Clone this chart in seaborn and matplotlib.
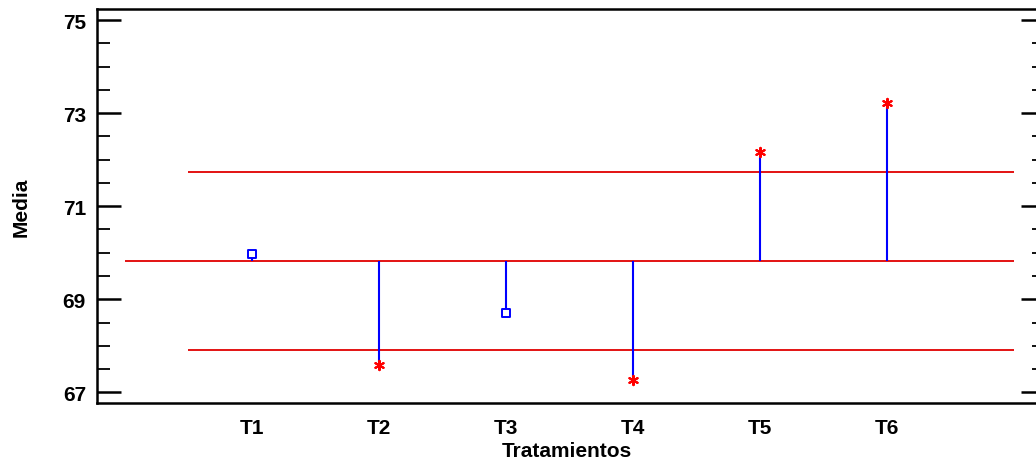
import matplotlib
matplotlib.use("Agg")
import matplotlib.pyplot as plt
from matplotlib.ticker import MultipleLocator
import numpy as np
import pandas as pd
import seaborn as sns

# Treatment means and control limits
tratamientos = ["T1", "T2", "T3", "T4", "T5", "T6"]
medias = [69.97, 67.58, 68.71, 67.26, 72.17, 73.21]
linea_central = 69.82
limite_superior = 71.73
limite_inferior = 67.91

sns.set_theme(style="white")
plt.rcParams["font.family"] = ["Liberation Sans", "DejaVu Sans"]
plt.rcParams["font.weight"] = "bold"
for key in ["text.color", "axes.labelcolor", "xtick.color", "ytick.color", "axes.edgecolor"]:
    plt.rcParams[key] = "black"

pos = np.arange(1, len(tratamientos) + 1)
df = pd.DataFrame({"pos": pos, "media": medias, "trat": tratamientos})
df["fuera"] = (df["media"] > limite_superior) | (df["media"] < limite_inferior)

fig = plt.figure(figsize=(10.36, 4.64), dpi=100)
ax = fig.add_axes([97 / 1036, 1 - 404 / 464, (1036 - 97) / 1036, (404 - 10) / 464])

# Decision lines
ax.hlines(linea_central, 0, 7, color="#e00000", lw=1.3, zorder=2)
ax.hlines([limite_superior, limite_inferior], 0.5, 7, color="#e00000", lw=1.3, zorder=2)

# Stems from the center line to each mean
ax.vlines(df["pos"], linea_central, df["media"], color="#0000ff", lw=1.5, zorder=3)

sns.scatterplot(data=df[~df["fuera"]], x="pos", y="media", marker="s", s=30,
                facecolor="white", edgecolor="#0000ff", linewidth=1.4, ax=ax, zorder=4)
sns.scatterplot(data=df[df["fuera"]], x="pos", y="media", marker=(6, 2, 0), s=45,
                color="#ff0000", linewidth=1.5, ax=ax, zorder=4)

ylim = (66.77, 75.24)
ax.set_xlim(-0.22, 7.17)
ax.set_ylim(*ylim)
ax.set_xticks(pos)
ax.set_xticklabels(tratamientos)
ax.set_yticks([67, 69, 71, 73, 75])
ax.yaxis.set_minor_locator(MultipleLocator(0.5))

ax.tick_params(axis="x", length=0, labelsize=15, pad=11)
ax.tick_params(axis="y", which="major", direction="in", length=17, width=1.8,
               labelsize=15, left=True, right=False, pad=8)
ax.tick_params(axis="y", which="minor", direction="in", length=9, width=1.3,
               left=True, right=False)
for lab in ax.get_xticklabels() + ax.get_yticklabels():
    lab.set_fontweight("bold")

# Right-hand tick marks
axr = ax.twinx()
axr.set_ylim(*ylim)
axr.set_yticks([67, 69, 71, 73, 75])
axr.yaxis.set_minor_locator(MultipleLocator(0.5))
axr.tick_params(axis="y", which="major", direction="in", length=11, width=1.8,
                labelright=False, right=True)
axr.tick_params(axis="y", which="minor", direction="in", length=3, width=1.3, right=True)
axr.grid(False)
for side in axr.spines:
    axr.spines[side].set_visible(False)

ax.set_xlabel("Tratamientos", fontsize=15, fontweight="bold", labelpad=3)
ax.set_ylabel("Media", fontsize=15, fontweight="bold", labelpad=23)

for side in ["left", "bottom", "top"]:
    ax.spines[side].set_color("black")
    ax.spines[side].set_linewidth(1.8)
    ax.spines[side].set_visible(True)
ax.spines["right"].set_visible(False)

fig.savefig("out.png", dpi=100)
